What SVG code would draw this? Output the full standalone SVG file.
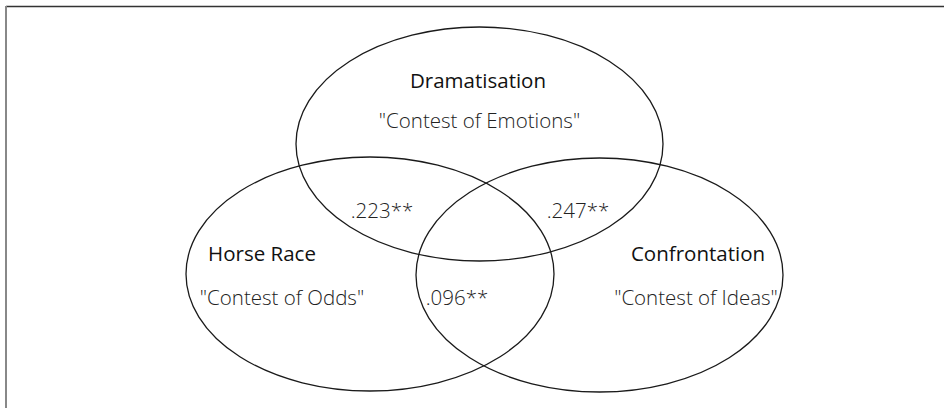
<svg xmlns="http://www.w3.org/2000/svg" width="944" height="408" viewBox="0 0 944 408">
<style>
.ring{fill:none;stroke:#1a1a1a;stroke-width:1.3}
.t{font-family:"Open Sans","Liberation Sans",sans-serif;font-size:20.5px;fill:#111;text-anchor:middle}
.q{font-family:"Open Sans","Liberation Sans",sans-serif;font-size:20.5px;font-weight:300;fill:#222;text-anchor:middle}
</style>
<rect width="944" height="408" fill="#fff"/>
<g id="frame">
<line x1="6" y1="6.5" x2="944" y2="6.5" stroke="#333" stroke-width="1.5"/>
<line x1="6" y1="6" x2="6" y2="408" stroke="#888" stroke-width="2"/>
</g>
<g id="dramatisation">
<ellipse class="ring" cx="479.5" cy="144" rx="183.5" ry="117"/>
<text class="t" x="478" y="88">Dramatisation</text>
<text class="q" x="479.5" y="128">"Contest of Emotions"</text>
</g>
<g id="horse-race">
<ellipse class="ring" cx="370" cy="274" rx="184" ry="117"/>
<text class="t" x="262" y="261">Horse Race</text>
<text class="q" x="282" y="305">"Contest of Odds"</text>
</g>
<g id="confrontation">
<ellipse class="ring" cx="599.5" cy="275" rx="183.5" ry="117"/>
<text class="t" x="698" y="261">Confrontation</text>
<text class="q" x="696" y="305">"Contest of Ideas"</text>
</g>
<g id="overlaps">
<text class="q" x="382" y="218">.223**</text>
<text class="q" x="578" y="218">.247**</text>
<text class="q" x="457" y="305">.096**</text>
</g>
</svg>
